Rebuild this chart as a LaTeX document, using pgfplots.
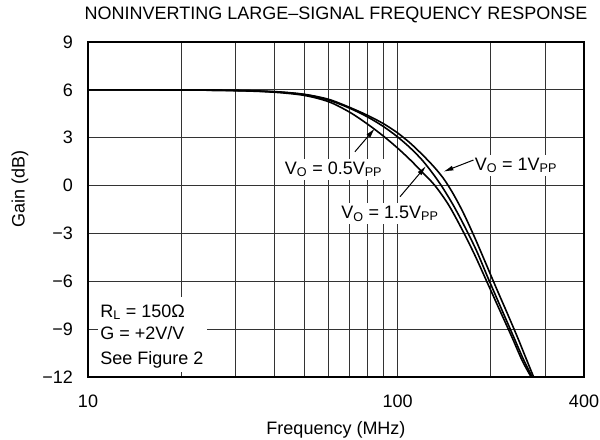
\documentclass[border=0pt]{standalone}
\usepackage{fontspec}
\setmainfont{Liberation Sans}
\usepackage{pgfplots}
\pgfplotsset{compat=1.18}
\usetikzlibrary{arrows.meta}
\begin{document}
\fontsize{18}{21}\selectfont
\begin{tikzpicture}
\begin{axis}[
  scale only axis, width=496pt, height=335pt,
  xmode=log, xmin=10, xmax=400, ymin=-12, ymax=9,
  xtick={10,20,30,40,50,60,70,80,90,100,200,300,400},
  xticklabels={10,,,,,,,,,100,,,400},
  xminorticks=false,
  ytick={-12,-9,-6,-3,0,3,6,9},
  yticklabels={−12,−9,−6,−3,0,3,6,9},
  grid=major,
  major grid style={black!80, line width=0.9pt},
  axis line style={line width=2pt},
  major tick length=0pt,
  tick label style={font=\fontsize{18}{21}\selectfont},
  xticklabel style={anchor=base, inner sep=0pt, yshift=-31pt},
  yticklabel style={anchor=east, inner sep=0pt, xshift=-15pt},
  title={NONINVERTING LARGE–SIGNAL FREQUENCY RESPONSE},
  title style={at={(axis description cs:0.5,1)}, anchor=base, inner sep=0pt, yshift=16pt, font=\fontsize{18}{21}\selectfont},
  xlabel={Frequency (MHz)},
  xlabel style={at={(axis description cs:0.5,0)}, anchor=base, inner sep=0pt, yshift=-58pt, font=\fontsize{18}{21}\selectfont},
  ylabel={Gain (dB)},
  ylabel style={at={(axis description cs:-0.137,0.56)}, anchor=center, inner sep=0pt, font=\fontsize{18}{21}\selectfont},
  every axis plot/.append style={black, line width=1.6pt},
]
\coordinate (sw) at (rel axis cs:0,0);
\coordinate (ne) at (rel axis cs:1,1);
% inner curve
\addplot[smooth] coordinates {
(10,6.0) (20,5.99) (30,5.95) (40,5.85) (50,5.65) (60,5.25) (70,4.6) (80,3.85)
(90,3.1) (100,2.35) (110,1.6) (120,0.85) (132,0) (146,-1.2) (161,-2.7) (177,-4.3)
(194,-6.0) (213,-7.75) (234,-9.5) (253,-11.0) (270,-12)};
% middle curve
\addplot[smooth] coordinates {
(10,6.0) (20,5.99) (30,5.96) (40,5.88) (50,5.7) (60,5.35) (70,4.85) (80,4.3)
(90,3.7) (100,3.05) (110,2.35) (120,1.6) (130,0.75) (140,-0.15) (152,-1.3) (165,-2.6)
(180,-4.1) (196,-5.8) (215,-7.6) (236,-9.4) (255,-10.9) (272,-12)};
% outer curve
\addplot[smooth] coordinates {
(10,6.0) (20,5.99) (30,5.96) (40,5.89) (50,5.72) (60,5.4) (70,4.9) (80,4.4)
(90,3.88) (100,3.3) (110,2.65) (120,1.95) (130,1.25) (140,0.5) (150,-0.4) (162,-1.6)
(176,-3.1) (191,-4.7) (207,-6.3) (226,-8.0) (245,-9.6) (262,-11.0) (275,-12)};
% annotations
\fill[white] (axis cs:10.77,-6.99) rectangle (axis cs:24.2,-11.69);
\node[anchor=base west, inner sep=0pt] at (axis cs:10.94,-8.24) {R\textsubscript{L} = 150Ω};
\node[anchor=base west, inner sep=0pt] at (axis cs:10.94,-9.68) {G = +2V/V};
\node[anchor=base west, inner sep=0pt] at (axis cs:10.94,-11.19) {See Figure 2};
\node[anchor=base, fill=white, inner sep=3pt] at (axis cs:62.1,0.72) {V\textsubscript{O} = 0.5V\textsubscript{PP}};
\node[anchor=base, fill=white, inner sep=3pt] at (axis cs:94.4,-2.05) {V\textsubscript{O} = 1.5V\textsubscript{PP}};
\node[anchor=base, fill=white, inner sep=3pt] at (axis cs:241,0.975) {V\textsubscript{O} = 1V\textsubscript{PP}};
\draw[-{Latex[length=10pt,width=5pt]}, line width=1pt] (axis cs:72.8,2.12) -- (axis cs:84.5,3.59);
\draw[-{Latex[length=10pt,width=5pt]}, line width=1pt] (axis cs:101.8,-0.70) -- (axis cs:123.6,1.23);
\draw[-{Latex[length=10pt,width=5pt]}, line width=1pt] (axis cs:175.8,1.6) -- (axis cs:140.6,0.87);
\end{axis}
\pgfresetboundingbox
\path ([shift={(-88pt,-63pt)}]sw) rectangle ([shift={(16pt,42pt)}]ne);
\end{tikzpicture}
\end{document}
